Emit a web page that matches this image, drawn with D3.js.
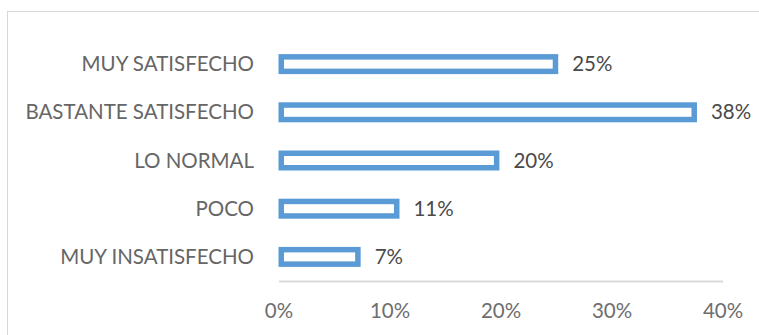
<!DOCTYPE html>
<html>
<head>
<meta charset="utf-8">
<script src="https://cdn.jsdelivr.net/npm/d3@7"></script>
<style>
  html, body { margin: 0; padding: 0; background: #fff; }
  svg { display: block; }
  text { font-family: Lato, "Open Sans", sans-serif; }
</style>
</head>
<body>
<svg id="chart" width="759" height="335"></svg>
<script>
const categories = ["MUY SATISFECHO", "BASTANTE SATISFECHO", "LO NORMAL", "POCO", "MUY INSATISFECHO"];
const values = [0.252, 0.377, 0.199, 0.109, 0.074];
const valueLabels = ["25%", "38%", "20%", "11%", "7%"];
const tickValues = [0, 0.1, 0.2, 0.3, 0.4];

const svg = d3.select("#chart");
const W = 759, H = 335;
const fontSize = 20.5;

// chart area border
svg.append("rect")
  .attr("x", 7.5).attr("y", 11.5)
  .attr("width", W).attr("height", H)
  .attr("fill", "#fff").attr("stroke", "#d9d9d9").attr("stroke-width", 1);

const x = d3.scaleLinear().domain([0, 0.4]).range([278.5, 722.5]);
const y = d3.scaleBand().domain(categories).range([40, 281]).paddingInner(0.585).paddingOuter(0.2925);

// axis line
const axisG = svg.append("g").attr("transform", "translate(0,281)");
const xAxis = d3.axisBottom(x).tickValues(tickValues).tickFormat(d3.format(".0%")).tickSize(0).tickPadding(22);
axisG.call(xAxis);
axisG.select(".domain").attr("stroke", "#d9d9d9").attr("stroke-width", 2);
axisG.selectAll(".tick text")
  .attr("fill", "#6e6e6e")
  .style("font-family", "Lato, 'Open Sans', sans-serif")
  .style("font-size", fontSize + "px");

// bars
const sw = 5.5;
const data = categories.map((c, i) => ({c, v: values[i], label: valueLabels[i]}));
svg.append("g").selectAll("rect").data(data).join("rect")
  .attr("x", d => x(0) + sw / 2)
  .attr("y", d => y(d.c) + sw / 2)
  .attr("width", d => x(d.v) - x(0) - sw)
  .attr("height", y.bandwidth() - sw)
  .attr("fill", "#fff")
  .attr("stroke", "#5b9bd5")
  .attr("stroke-width", sw);

// category labels
svg.append("g").selectAll("text").data(data).join("text")
  .attr("x", 254)
  .attr("y", d => y(d.c) + y.bandwidth() / 2)
  .attr("dy", "0.35em")
  .attr("text-anchor", "end")
  .attr("fill", "#666666")
  .style("font-size", fontSize + "px")
  .text(d => d.c);

// value labels
svg.append("g").selectAll("text").data(data).join("text")
  .attr("x", d => x(d.v) + 14)
  .attr("y", d => y(d.c) + y.bandwidth() / 2)
  .attr("dy", "0.35em")
  .attr("fill", "#4a4a4a")
  .style("font-size", fontSize + "px")
  .text(d => d.label);
</script>
</body>
</html>
